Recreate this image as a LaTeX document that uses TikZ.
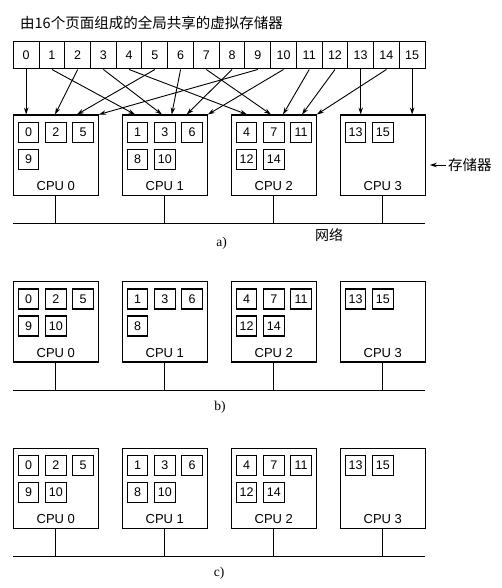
\documentclass[tikz,border=0pt]{standalone}
\usepackage{fontspec}
\setmainfont{Liberation Serif}
\newfontfamily\hv{Liberation Sans}
\newfontfamily\cjk{Noto Sans CJK SC}
\usetikzlibrary{arrows.meta}
\tikzstyle{vp} = [rectangle, minimum width=25.73pt, minimum height=27pt, text centered, draw=black, line width=1pt, font=\hv\fontsize{12.5}{12.5}\selectfont]
\tikzstyle{cpu} = [rectangle, minimum width=85pt, minimum height=80.5pt, draw=black, line width=1.1pt]
\tikzstyle{pg} = [rectangle, minimum width=20.5pt, minimum height=20pt, inner sep=0pt, text centered, draw=black, line width=1.1pt, font=\hv\fontsize{12.5}{12.5}\selectfont]
\tikzstyle{lbl} = [inner sep=0pt, font=\hv\fontsize{13}{13}\selectfont]
\tikzstyle{cn} = [inner sep=0pt, font=\cjk\fontsize{14.5}{14.5}\selectfont]
\tikzstyle{subcap} = [inner sep=0pt, font=\fontsize{13.5}{13.5}\selectfont]
\tikzstyle{arrow} = [line width=0.9pt,->,>={Stealth[length=7pt,width=4.5pt]}]
\tikzstyle{net} = [line width=0.9pt]

\begin{document}
\begin{tikzpicture}[x=1pt, y=-1pt, node distance=25.73pt]
\useasboundingbox (0,0) rectangle (501,588);

% Drawing the shared virtual memory
\node (title) [cn, anchor=west] at (20,22.7) {由16个页面组成的全局共享的虚拟存储器};
\node (v0) [vp] at (26.2,55.5) {0};
\node (v1) [vp, right of=v0] {1};
\node (v2) [vp, right of=v1] {2};
\node (v3) [vp, right of=v2] {3};
\node (v4) [vp, right of=v3] {4};
\node (v5) [vp, right of=v4] {5};
\node (v6) [vp, right of=v5] {6};
\node (v7) [vp, right of=v6] {7};
\node (v8) [vp, right of=v7] {8};
\node (v9) [vp, right of=v8] {9};
\node (v10) [vp, right of=v9] {10};
\node (v11) [vp, right of=v10] {11};
\node (v12) [vp, right of=v11] {12};
\node (v13) [vp, right of=v12] {13};
\node (v14) [vp, right of=v13] {14};
\node (v15) [vp, right of=v14] {15};

% Drawing panel a)
\node (a0) [cpu] at (55.8,155.3) {};
\node (a1) [cpu] at (164.8,155.3) {};
\node (a2) [cpu] at (273.8,155.3) {};
\node (a3) [cpu] at (382.8,155.3) {};
\node (a0t) [lbl] at (55.8,186) {CPU 0};
\node (a1t) [lbl] at (164.8,186) {CPU 1};
\node (a2t) [lbl] at (273.8,186) {CPU 2};
\node (a3t) [lbl] at (382.8,186) {CPU 3};
\node (a0-0) [pg] at (28.5,132.6) {0};
\node (a0-2) [pg] at (55.8,132.6) {2};
\node (a0-5) [pg] at (83.1,132.6) {5};
\node (a0-9) [pg] at (28.5,159.6) {9};
\node (a1-1) [pg] at (137.5,132.6) {1};
\node (a1-3) [pg] at (164.8,132.6) {3};
\node (a1-6) [pg] at (192.1,132.6) {6};
\node (a1-8) [pg] at (137.5,159.6) {8};
\node (a1-10) [pg] at (164.8,159.6) {10};
\node (a2-4) [pg] at (246.5,132.6) {4};
\node (a2-7) [pg] at (273.8,132.6) {7};
\node (a2-11) [pg] at (301.1,132.6) {11};
\node (a2-12) [pg] at (246.5,159.6) {12};
\node (a2-14) [pg] at (273.8,159.6) {14};
\node (a3-13) [pg] at (355.5,132.6) {13};
\node (a3-15) [pg] at (382.8,132.6) {15};
\node (mem) [cn, anchor=west] at (448,165) {存储器};
\coordinate (na1) at (13.3,223.3);
\coordinate (na2) at (425,223.3);
\node (neta) [cn, font=\cjk\fontsize{14}{14}\selectfont] at (329,235) {网络};
\node (capa) [subcap] at (221.7,243) {a)};

% Drawing arrows
\draw [arrow] (v0.south) -- (v0.south |- a0.north);
\draw [arrow] (v1.south) -- ([xshift=-29.8pt]a1.north);
\draw [arrow] (v2.south) -- ([xshift=-0.8pt]a0.north);
\draw [arrow] (v3.south) -- ([xshift=-2.8pt]a1.north);
\draw [arrow] (v4.south) -- ([xshift=-26.8pt]a2.north);
\draw [arrow] (v5.south) -- ([xshift=21.2pt]a0.north);
\draw [arrow] (v6.south) -- ([xshift=6.9pt]a1.north);
\draw [arrow] (v7.south) -- ([xshift=-2.8pt]a2.north);
\draw [arrow] (v8.south) -- ([xshift=21.9pt]a1.north);
\draw [arrow] (v9.south) -- (a0.north east);
\draw [arrow] (v10.south) -- (a1.north east);
\draw [arrow] (v11.south) -- ([xshift=9.2pt]a2.north);
\draw [arrow] (v12.south) -- ([xshift=28.2pt]a2.north);
\draw [arrow] (v13.south) -- (v13.south |- a3.north);
\draw [arrow] (v14.south) -- (a2.north east);
\draw [arrow] (v15.south) -- (v15.south |- a3.north);
\draw [arrow, shorten <=2pt, shorten >=4pt] (mem.west) -- (mem.west -| a3.east);
\draw [net] (na1) -- (na2);
\draw [net] (a0.south) -- (a0.south |- na1);
\draw [net] (a1.south) -- (a1.south |- na1);
\draw [net] (a2.south) -- (a2.south |- na1);
\draw [net] (a3.south) -- (a3.south |- na1);

% Drawing panel b)
\node (b0) [cpu] at (55.8,321.7) {};
\node (b1) [cpu] at (164.8,321.7) {};
\node (b2) [cpu] at (273.8,321.7) {};
\node (b3) [cpu] at (382.8,321.7) {};
\node (b0t) [lbl] at (55.8,352.6) {CPU 0};
\node (b1t) [lbl] at (164.8,352.6) {CPU 1};
\node (b2t) [lbl] at (273.8,352.6) {CPU 2};
\node (b3t) [lbl] at (382.8,352.6) {CPU 3};
\node (b0-0) [pg] at (28.5,299) {0};
\node (b0-2) [pg] at (55.8,299) {2};
\node (b0-5) [pg] at (83.1,299) {5};
\node (b0-9) [pg] at (28.5,326) {9};
\node (b0-10) [pg] at (55.8,326) {10};
\node (b1-1) [pg] at (137.5,299) {1};
\node (b1-3) [pg] at (164.8,299) {3};
\node (b1-6) [pg] at (192.1,299) {6};
\node (b1-8) [pg] at (137.5,326) {8};
\node (b2-4) [pg] at (246.5,299) {4};
\node (b2-7) [pg] at (273.8,299) {7};
\node (b2-11) [pg] at (301.1,299) {11};
\node (b2-12) [pg] at (246.5,326) {12};
\node (b2-14) [pg] at (273.8,326) {14};
\node (b3-13) [pg] at (355.5,299) {13};
\node (b3-15) [pg] at (382.8,299) {15};
\coordinate (nb1) at (13.3,390);
\coordinate (nb2) at (425,390);
\node (capb) [subcap] at (220,407) {b)};
\draw [net] (nb1) -- (nb2);
\draw [net] (b0.south) -- (b0.south |- nb1);
\draw [net] (b1.south) -- (b1.south |- nb1);
\draw [net] (b2.south) -- (b2.south |- nb1);
\draw [net] (b3.south) -- (b3.south |- nb1);

% Drawing panel c)
\node (c0) [cpu] at (55.8,488.3) {};
\node (c1) [cpu] at (164.8,488.3) {};
\node (c2) [cpu] at (273.8,488.3) {};
\node (c3) [cpu] at (382.8,488.3) {};
\node (c0t) [lbl] at (55.8,519.2) {CPU 0};
\node (c1t) [lbl] at (164.8,519.2) {CPU 1};
\node (c2t) [lbl] at (273.8,519.2) {CPU 2};
\node (c3t) [lbl] at (382.8,519.2) {CPU 3};
\node (c0-0) [pg] at (28.5,465.6) {0};
\node (c0-2) [pg] at (55.8,465.6) {2};
\node (c0-5) [pg] at (83.1,465.6) {5};
\node (c0-9) [pg] at (28.5,492.6) {9};
\node (c0-10) [pg] at (55.8,492.6) {10};
\node (c1-1) [pg] at (137.5,465.6) {1};
\node (c1-3) [pg] at (164.8,465.6) {3};
\node (c1-6) [pg] at (192.1,465.6) {6};
\node (c1-8) [pg] at (137.5,492.6) {8};
\node (c1-10) [pg] at (164.8,492.6) {10};
\node (c2-4) [pg] at (246.5,465.6) {4};
\node (c2-7) [pg] at (273.8,465.6) {7};
\node (c2-11) [pg] at (301.1,465.6) {11};
\node (c2-12) [pg] at (246.5,492.6) {12};
\node (c2-14) [pg] at (273.8,492.6) {14};
\node (c3-13) [pg] at (355.5,465.6) {13};
\node (c3-15) [pg] at (382.8,465.6) {15};
\coordinate (nc1) at (13.3,556.7);
\coordinate (nc2) at (425,556.7);
\node (capc) [subcap] at (219,573) {c)};
\draw [net] (nc1) -- (nc2);
\draw [net] (c0.south) -- (c0.south |- nc1);
\draw [net] (c1.south) -- (c1.south |- nc1);
\draw [net] (c2.south) -- (c2.south |- nc1);
\draw [net] (c3.south) -- (c3.south |- nc1);
\end{tikzpicture}
\end{document}
